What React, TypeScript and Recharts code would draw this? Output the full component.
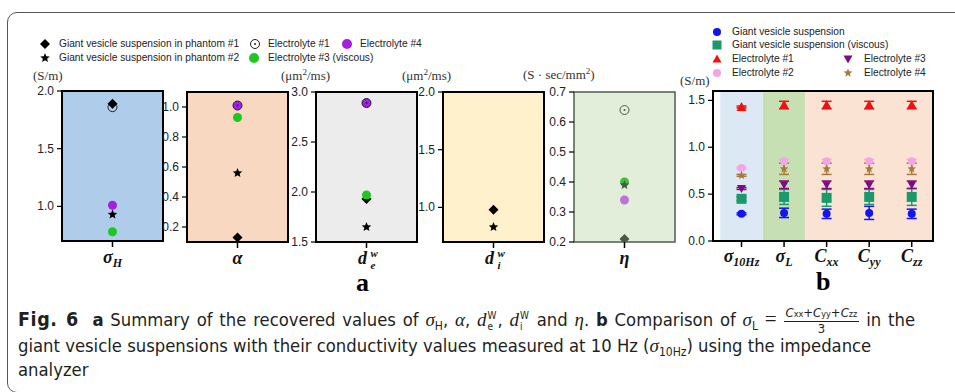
import React from 'react';
import { ScatterChart, Scatter, XAxis, YAxis, ReferenceArea, ErrorBar } from 'recharts';

// ---- panel a: recovered values (sigmaH, alpha, de^w, di^w, eta) ----
const phantom1 = [1.89, 0.13, 1.93, 0.98, 0.21];
const phantom2 = [0.93, 0.56, 1.65, 0.83, 0.39];
const electrolyte1 = [1.86, 1.01, 2.89, null, 0.64];
const electrolyte3 = [0.78, 0.93, 1.97, null, 0.40];
const electrolyte4 = [1.01, 1.01, 2.89, null, 0.34];

const aDomains = [[0.7, 2.0], [0.1, 1.1], [1.5, 3.0], [0.7, 2.0], [0.2, 0.7]];
const aTicks = [
  [1.0, 1.5, 2.0],
  [0.2, 0.4, 0.6, 0.8, 1.0],
  [1.5, 2.0, 2.5, 3.0],
  [1.0, 1.5, 2.0],
  [0.2, 0.3, 0.4, 0.5, 0.6, 0.7],
];

// ---- panel b: conductivity comparison ----
const bCategories = ['σ10Hz', 'σL', 'Cxx', 'Cyy', 'Czz'];
const vesicle = [0.29, 0.30, 0.29, 0.30, 0.29];
const vesicleErr = [0.01, 0.05, 0.05, 0.07, 0.05];
const vesicleViscous = [0.45, 0.47, 0.46, 0.47, 0.47];
const vesicleViscousErr = [0.02, 0.08, 0.09, 0.08, 0.09];
const elec1 = [1.43, 1.45, 1.45, 1.45, 1.45];
const elec1Err = [0.01, 0.04, 0.04, 0.04, 0.04];
const elec2 = [0.78, 0.85, 0.85, 0.85, 0.85];
const elec2Err = [0.01, 0.02, 0.02, 0.02, 0.02];
const elec3 = [0.56, 0.60, 0.60, 0.60, 0.60];
const elec3Err = [0.01, 0.04, 0.04, 0.04, 0.04];
const elec4 = [0.70, 0.77, 0.77, 0.77, 0.77];
const elec4Err = [0.01, 0.06, 0.06, 0.06, 0.06];

const SANS = '"Liberation Sans", Arial, sans-serif';
const SERIF = '"Liberation Serif", "Times New Roman", serif';

function starPath(cx: number, cy: number, R: number) {
  const r = R * 0.45;
  let d = '';
  for (let i = 0; i < 10; i++) {
    const a = -Math.PI / 2 + (i * Math.PI) / 5;
    const rr = i % 2 === 0 ? R : r;
    d += (i === 0 ? 'M' : 'L') + (cx + rr * Math.cos(a)).toFixed(2) + ',' + (cy + rr * Math.sin(a)).toFixed(2);
  }
  return d + 'Z';
}

function Mark({ kind, cx, cy, s, color }: any) {
  if (cx == null || cy == null) return null;
  switch (kind) {
    case 'diamond':
      return <path d={`M${cx},${cy - s}L${cx + s},${cy}L${cx},${cy + s}L${cx - s},${cy}Z`} fill={color} />;
    case 'star':
      return <path d={starPath(cx, cy, s)} fill={color} />;
    case 'ocircle':
      return (
        <g>
          <circle cx={cx} cy={cy} r={s} fill="none" stroke={color} strokeWidth={1} />
          <circle cx={cx} cy={cy} r={1} fill={color} />
        </g>
      );
    case 'square':
      return <rect x={cx - s} y={cy - s} width={2 * s} height={2 * s} fill={color} />;
    case 'tri':
      return <path d={`M${cx},${cy - s}L${cx + s},${cy + s * 0.8}L${cx - s},${cy + s * 0.8}Z`} fill={color} />;
    case 'dtri':
      return <path d={`M${cx},${cy + s}L${cx + s},${cy - s * 0.8}L${cx - s},${cy - s * 0.8}Z`} fill={color} />;
    default:
      return <circle cx={cx} cy={cy} r={s} fill={color} />;
  }
}

function LegendMark({ kind, x, y, s, color }: any) {
  return (
    <svg style={{ position: 'absolute', left: x - 8, top: y - 8 }} width={16} height={16}>
      <Mark kind={kind} cx={8} cy={8} s={s} color={color} />
    </svg>
  );
}

function LegendText({ x, y, children }: any) {
  return (
    <div style={{ position: 'absolute', left: x, top: y - 7, fontFamily: SANS, fontSize: 10.2, lineHeight: '14px', color: '#222', whiteSpace: 'nowrap' }}>
      {children}
    </div>
  );
}

const labelStyle: any = { fontFamily: SERIF, fontWeight: 'bold', fontStyle: 'italic', fill: '#111' };

function YTick({ x, y, payload }: any) {
  return (
    <text x={x} y={y} dy={4} textAnchor="end" fontSize={12} fill="#222" fontFamily={SANS}>
      {Number(payload.value).toFixed(1)}
    </text>
  );
}

function ALabel({ x, y, which }: any) {
  const by = y + 14;
  if (which === 0) {
    return (
      <text x={x} y={by} textAnchor="middle" fontSize={18} {...labelStyle}>
        σ<tspan fontSize={12} dy={4}>H</tspan>
      </text>
    );
  }
  if (which === 1) return <text x={x} y={by} textAnchor="middle" fontSize={18} {...labelStyle}>α</text>;
  if (which === 4) return <text x={x} y={by} textAnchor="middle" fontSize={18} {...labelStyle}>η</text>;
  const sub = which === 2 ? 'e' : 'i';
  return (
    <g>
      <text x={x - 4} y={by} textAnchor="middle" fontSize={18} {...labelStyle}>d</text>
      <text x={x + 4} y={by - 7} textAnchor="start" fontSize={11} {...labelStyle}>w</text>
      <text x={x + 4} y={by + 5} textAnchor="start" fontSize={11} {...labelStyle}>{sub}</text>
    </g>
  );
}

function BLabel({ x, y, payload }: any) {
  const i = payload.value - 1;
  const name = bCategories[i];
  const base = name.slice(0, 1);
  const sub = name.slice(1);
  return (
    <text x={x} y={y + 13} textAnchor="middle" fontSize={18} {...labelStyle}>
      {base}<tspan fontSize={12} dy={4}>{sub}</tspan>
    </text>
  );
}

const panelA = [
  { left: 62, top: 91, fill: '#afcdea', border: '#000', muted: false },
  { left: 187, top: 92, fill: '#f8d8c1', border: '#000', muted: false },
  { left: 316, top: 92, fill: '#ececec', border: '#000', muted: false },
  { left: 443, top: 92, fill: '#fff1cc', border: '#000', muted: false },
  { left: 574, top: 92, fill: '#e2eed9', border: '#4d5d4d', muted: true },
];

const YW = 30;

function PanelA({ idx }: { idx: number }) {
  const p = panelA[idx];
  const W = 101;
  const H = 150;
  const dom = aDomains[idx];
  const pt = (v: number | null) => (v == null ? [] : [{ x: 1, y: v }]);
  const c = p.muted
    ? { dark: '#4a5a48', circ: '#555', purple: '#bd72d8', green: '#3fbf3f' }
    : { dark: '#000', circ: '#222', purple: '#a51ee6', green: '#1ec81e' };
  return (
    <div style={{ position: 'absolute', left: p.left - YW, top: p.top - 10 }}>
      <ScatterChart width={W + YW + 2} height={H + 50} margin={{ top: 10, right: 2, left: 0, bottom: 0 }}>
        <XAxis type="number" dataKey="x" domain={[0, 2]} ticks={[1]} allowDataOverflow height={40}
          axisLine={false} tickSize={6} tickLine={{ stroke: '#000', strokeWidth: 1.5 }}
          tick={(t: any) => <ALabel {...t} which={idx} />} />
        <YAxis type="number" dataKey="y" domain={dom} ticks={aTicks[idx]} allowDataOverflow width={YW}
          axisLine={false} tickSize={5} tickMargin={3} tickLine={{ stroke: '#000', strokeWidth: 1.2 }}
          tick={(t: any) => <YTick {...t} />} />
        <ReferenceArea x1={0} x2={2} y1={dom[0]} y2={dom[1]} fill={p.fill} fillOpacity={1}
          stroke={p.border} strokeWidth={p.muted ? 1.5 : 2} strokeOpacity={1} />
        <Scatter data={pt(electrolyte4[idx])} isAnimationActive={false}
          shape={(s: any) => <Mark kind="circle" cx={s.cx} cy={s.cy} s={4.5} color={c.purple} />} />
        <Scatter data={pt(electrolyte1[idx])} isAnimationActive={false}
          shape={(s: any) => <Mark kind="ocircle" cx={s.cx} cy={s.cy} s={4.5} color={c.circ} />} />
        <Scatter data={pt(phantom1[idx])} isAnimationActive={false}
          shape={(s: any) => <Mark kind="diamond" cx={s.cx} cy={s.cy} s={5} color={c.dark} />} />
        <Scatter data={pt(electrolyte3[idx])} isAnimationActive={false}
          shape={(s: any) => <Mark kind="circle" cx={s.cx} cy={s.cy} s={4.5} color={c.green} />} />
        <Scatter data={pt(phantom2[idx])} isAnimationActive={false}
          shape={(s: any) => <Mark kind="star" cx={s.cx} cy={s.cy} s={5} color={c.dark} />} />
      </ScatterChart>
    </div>
  );
}

const bSeries = [
  { vals: vesicle, errs: vesicleErr, kind: 'circle', color: '#1414ee', s: 4 },
  { vals: vesicleViscous, errs: vesicleViscousErr, kind: 'square', color: '#1a9a6c', s: 5 },
  { vals: elec2, errs: elec2Err, kind: 'circle', color: '#f3a6e6', s: 4 },
  { vals: elec4, errs: elec4Err, kind: 'star', color: '#a87b3c', s: 4.5 },
  { vals: elec3, errs: elec3Err, kind: 'dtri', color: '#7e0c80', s: 4.5 },
  { vals: elec1, errs: elec1Err, kind: 'tri', color: '#ee1111', s: 5 },
];

function PanelB() {
  const W = 220;
  const H = 150;
  const BW = 30;
  return (
    <div style={{ position: 'absolute', left: 713 - BW, top: 91 - 10 }}>
      <ScatterChart width={W + BW + 4} height={H + 55} margin={{ top: 10, right: 4, left: 0, bottom: 0 }}>
        <XAxis type="number" dataKey="x" domain={[0.33, 5.5]} ticks={[1, 2, 3, 4, 5]} allowDataOverflow height={45}
          axisLine={false} tickSize={6} tickLine={{ stroke: '#000', strokeWidth: 1.5 }}
          tick={(t: any) => <BLabel {...t} />} />
        <YAxis type="number" dataKey="y" domain={[0, 1.6]} ticks={[0, 0.5, 1.0, 1.5]} allowDataOverflow width={BW}
          axisLine={false} tickSize={5} tickMargin={3} tickLine={{ stroke: '#000', strokeWidth: 1.2 }}
          tick={(t: any) => <YTick {...t} />} />
        <ReferenceArea x1={0.5} x2={1.5} y1={0} y2={1.6} fill="#dde8f5" fillOpacity={1} stroke="none" />
        <ReferenceArea x1={1.5} x2={2.5} y1={0} y2={1.6} fill="#c6e0b4" fillOpacity={1} stroke="none" />
        <ReferenceArea x1={2.5} x2={5.5} y1={0} y2={1.6} fill="#fbe3d4" fillOpacity={1} stroke="none" />
        <ReferenceArea x1={0.33} x2={5.5} y1={0} y2={1.6} fill="none" stroke="#000" strokeWidth={2} strokeOpacity={1} />
        {bSeries.map((ser, k) => (
          <Scatter key={k} data={ser.vals.map((v, i) => ({ x: i + 1, y: v, err: ser.errs[i] }))} isAnimationActive={false}
            shape={(s: any) => <Mark kind={ser.kind} cx={s.cx} cy={s.cy} s={ser.s} color={ser.color} />}>
            <ErrorBar dataKey="err" direction="y" width={5} stroke={ser.color} strokeWidth={1.5} />
          </Scatter>
        ))}
      </ScatterChart>
    </div>
  );
}

function Unit({ x, y, children }: any) {
  return (
    <div style={{ position: 'absolute', left: x, top: y - 7, fontFamily: SERIF, fontSize: 13, lineHeight: '14px', color: '#333', whiteSpace: 'nowrap' }}>
      {children}
    </div>
  );
}

const capFont = '"Liberation Sans Narrow", "DejaVu Sans Condensed", "Liberation Sans", sans-serif';
const mathStyle: any = { fontFamily: SERIF, fontStyle: 'italic', fontSize: 19 };
const subStyle: any = { fontSize: 12, verticalAlign: -4, lineHeight: 0 };

function SupSub({ sup, sub }: any) {
  return (
    <span style={{ display: 'inline-flex', flexDirection: 'column', verticalAlign: 'middle', fontSize: 10, lineHeight: '11px', marginLeft: 1, marginRight: 1 }}>
      <span>{sup}</span>
      <span>{sub}</span>
    </span>
  );
}

function Caption() {
  const line: any = { position: 'absolute', left: 18, fontFamily: capFont, fontSize: 18.3, lineHeight: '24px', color: '#231f20', whiteSpace: 'nowrap' };
  const fsub: any = { fontSize: 9 };
  return (
    <>
      <div style={{ ...line, top: 306, width: 897, textAlign: 'justify', textAlignLast: 'justify' }}>
        <b style={{ fontSize: 19.5, letterSpacing: 0.6 }}>Fig. 6</b>&nbsp; <b>a</b> Summary of the recovered values of{' '}
        <span style={mathStyle}>σ</span><span style={subStyle}>H</span>, <span style={mathStyle}>α</span>,{' '}
        <span style={mathStyle}>d</span><SupSub sup="W" sub="e" />, <span style={mathStyle}>d</span><SupSub sup="W" sub="i" /> and{' '}
        <span style={mathStyle}>η</span>. <b>b</b> Comparison of <span style={mathStyle}>σ</span><span style={subStyle}>L</span>{' '}
        <span style={{ fontFamily: SERIF, fontSize: 21 }}>=</span>{' '}
        <span style={{ display: 'inline-flex', flexDirection: 'column', alignItems: 'center', verticalAlign: 'middle', fontSize: 13, lineHeight: '13px' }}>
          <span style={{ borderBottom: '1px solid #231f20', padding: '0 2px' }}>
            <i>C</i><span style={fsub}>xx</span>+<i>C</i><span style={fsub}>yy</span>+<i>C</i><span style={fsub}>zz</span>
          </span>
          <span>3</span>
        </span>{' '}in the
      </div>
      <div style={{ ...line, top: 334 }}>
        giant vesicle suspensions with their conductivity values measured at 10 Hz (<span style={mathStyle}>σ</span><span style={subStyle}>10Hz</span>) using the impedance
      </div>
      <div style={{ ...line, top: 358 }}>analyzer</div>
    </>
  );
}

export default function App() {
  return (
    <div style={{ position: 'absolute', left: 0, top: 0, width: 955, height: 392, overflow: 'hidden', background: '#fff' }}>
      {/* figure frame */}
      <div style={{ position: 'absolute', left: 7, top: 12, width: 980, height: 379, border: '1px solid #555', borderRadius: 10 }} />

      {/* legend a */}
      <LegendMark kind="diamond" x={45} y={44} s={5} color="#000" />
      <LegendText x={59} y={44}>Giant vesicle suspension in phantom #1</LegendText>
      <LegendMark kind="ocircle" x={255} y={44} s={4.5} color="#222" />
      <LegendText x={268} y={44}>Electrolyte #1</LegendText>
      <LegendMark kind="circle" x={347} y={44} s={5} color="#a51ee6" />
      <LegendText x={360} y={44}>Electrolyte #4</LegendText>
      <LegendMark kind="star" x={45} y={58} s={5} color="#000" />
      <LegendText x={59} y={58}>Giant vesicle suspension in phantom #2</LegendText>
      <LegendMark kind="circle" x={254} y={58} s={5} color="#1ec81e" />
      <LegendText x={268} y={58}>Electrolyte #3 (viscous)</LegendText>

      {/* legend b */}
      <LegendMark kind="circle" x={717} y={32} s={4} color="#1414ee" />
      <LegendText x={732} y={32}>Giant vesicle suspension</LegendText>
      <LegendMark kind="square" x={717} y={45} s={4.5} color="#1a9a6c" />
      <LegendText x={732} y={45}>Giant vesicle suspension (viscous)</LegendText>
      <LegendMark kind="tri" x={717} y={59} s={4.5} color="#ee1111" />
      <LegendText x={732} y={59}>Electrolyte #1</LegendText>
      <LegendMark kind="dtri" x={848} y={59} s={4.5} color="#7e0c80" />
      <LegendText x={864} y={59}>Electrolyte #3</LegendText>
      <LegendMark kind="circle" x={717} y={73} s={4} color="#f3a6e6" />
      <LegendText x={732} y={73}>Electrolyte #2</LegendText>
      <LegendMark kind="star" x={848} y={73} s={4.5} color="#a87b3c" />
      <LegendText x={864} y={73}>Electrolyte #4</LegendText>

      {/* units */}
      <Unit x={33} y={76}>(S/m)</Unit>
      <Unit x={281} y={76}>(μm<sup style={{ fontSize: 9, lineHeight: 0 }}>2</sup>/ms)</Unit>
      <Unit x={402} y={76}>(μm<sup style={{ fontSize: 9, lineHeight: 0 }}>2</sup>/ms)</Unit>
      <Unit x={523} y={75}>(S · sec/mm<sup style={{ fontSize: 9, lineHeight: 0 }}>2</sup>)</Unit>
      <Unit x={680} y={81}>(S/m)</Unit>

      {[0, 1, 2, 3, 4].map((i) => <PanelA key={i} idx={i} />)}
      <PanelB />

      <div style={{ position: 'absolute', left: 356, top: 268, fontFamily: SERIF, fontWeight: 'bold', fontSize: 26, lineHeight: '30px' }}>a</div>
      <div style={{ position: 'absolute', left: 816, top: 267, fontFamily: SERIF, fontWeight: 'bold', fontSize: 26, lineHeight: '30px' }}>b</div>

      <Caption />
    </div>
  );
}
